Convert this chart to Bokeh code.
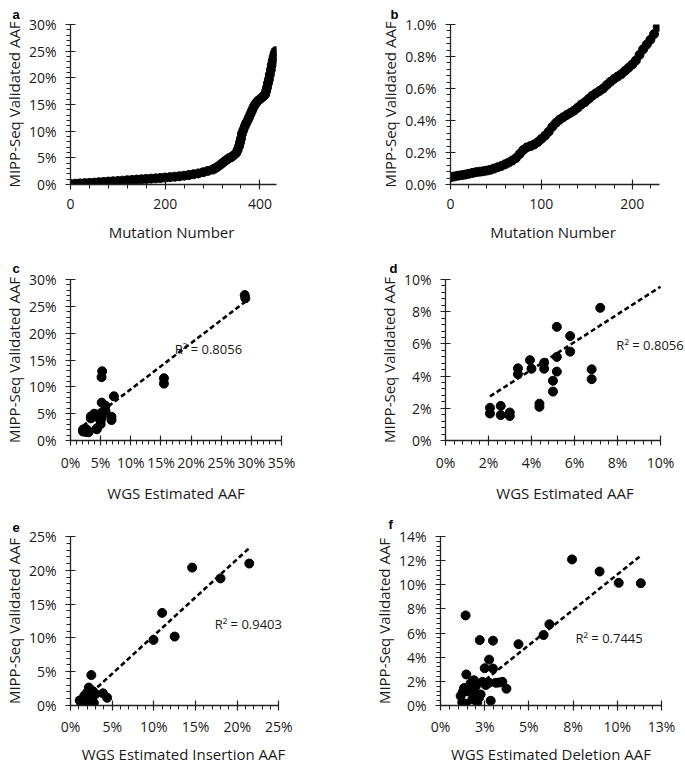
import numpy as np
from bokeh.plotting import figure
from bokeh.layouts import column, row
from bokeh.models import FixedTicker, Label, Range1d
from bokeh.embed import file_html
from bokeh.resources import INLINE

# ---------------- data (percent units) ----------------
# Panel a: sorted validated AAF by mutation number
a_mutation = [0, 10, 20, 30, 40, 50, 60, 70, 80, 90, 100, 110, 120, 130, 140, 150, 160, 170, 180, 190,
              200, 210, 220, 230, 240, 250, 260, 270, 280, 290, 300, 305, 310, 315, 320, 325, 330, 335,
              340, 345, 350, 353, 356, 358, 360, 362, 365, 368, 371, 374, 377, 380, 383, 386, 389, 392,
              396, 400, 404, 408, 411, 413, 415, 417, 419, 421, 423, 425, 427, 429, 431, 433]
a_aaf = [0.10, 0.15, 0.20, 0.25, 0.30, 0.35, 0.42, 0.48, 0.55, 0.60, 0.66, 0.72, 0.80, 0.85, 0.92, 0.98,
         1.04, 1.10, 1.15, 1.22, 1.30, 1.38, 1.46, 1.55, 1.66, 1.78, 1.92, 2.08, 2.30, 2.55, 2.80, 3.00,
         3.30, 3.60, 3.95, 4.30, 4.65, 4.95, 5.15, 5.50, 5.90, 6.50, 7.20, 7.90, 8.60, 9.50, 10.2, 10.9,
         11.5, 12.0, 12.6, 13.2, 13.8, 14.4, 14.9, 15.3, 15.7, 16.0, 16.3, 16.6, 16.9, 17.5, 18.2, 19.0,
         19.7, 20.6, 21.5, 22.4, 23.2, 23.9, 24.5, 25.0]

# Panel b: low-AAF mutations
b_mutation = [0, 4, 8, 12, 16, 20, 24, 28, 32, 36, 40, 44, 48, 52, 56, 60, 64, 68, 72, 76, 80, 84, 88,
              92, 96, 100, 104, 108, 112, 116, 120, 124, 128, 132, 136, 140, 144, 148, 152, 156, 160,
              164, 168, 172, 176, 180, 184, 188, 192, 196, 200, 204, 208, 212, 216, 220, 224, 228]
b_aaf = [0.045, 0.050, 0.055, 0.058, 0.062, 0.067, 0.072, 0.077, 0.080, 0.083, 0.087, 0.092, 0.100,
         0.108, 0.116, 0.126, 0.137, 0.150, 0.165, 0.190, 0.215, 0.232, 0.240, 0.250, 0.265, 0.285,
         0.305, 0.330, 0.360, 0.385, 0.405, 0.420, 0.435, 0.448, 0.462, 0.480, 0.500, 0.515, 0.535,
         0.555, 0.570, 0.585, 0.600, 0.622, 0.642, 0.660, 0.675, 0.690, 0.710, 0.730, 0.750, 0.775,
         0.810, 0.845, 0.875, 0.905, 0.940, 0.985]

# Panel d: WGS estimated vs MIPP-Seq validated (low range)
d_wgs = [7.20, 5.18, 5.80, 5.80, 5.18, 5.18, 5.00, 5.00, 6.80, 6.80, 4.59, 4.59, 3.93, 4.00, 3.37, 3.37,
         4.37, 4.37, 2.07, 2.07, 2.57, 2.57, 2.99, 2.99]
d_mipp = [8.24, 7.06, 6.49, 5.52, 5.19, 4.28, 3.71, 3.04, 4.42, 3.81, 4.83, 4.46, 4.99, 4.46, 4.48, 4.12,
          2.29, 2.09, 2.03, 1.68, 2.15, 1.58, 1.74, 1.52]
# Panel c: same points plus high-AAF ones
c_extra_wgs = [5.25, 5.15, 15.5, 15.5, 28.9, 29.0]
c_extra_mipp = [12.9, 11.8, 11.6, 10.6, 27.1, 26.5]
c_wgs = d_wgs + c_extra_wgs
c_mipp = d_mipp + c_extra_mipp
cd_slope, cd_intercept, cd_r2 = 0.859, 0.96, "0.8056"

# Panel e: insertions
e_wgs = [21.45, 18.0, 14.6, 11.0, 12.5, 9.96, 2.5, 3.9, 4.4, 1.1, 1.45, 1.65, 2.0, 2.2, 2.35, 2.8, 2.6,
         1.8, 2.4, 3.0, 1.3, 2.1, 2.7]
e_mipp = [21.0, 18.8, 20.4, 13.7, 10.2, 9.7, 4.5, 1.8, 1.15, 0.75, 0.5, 1.45, 1.95, 2.65, 2.3, 0.4, 1.2,
          0.25, 1.9, 1.7, 0.2, 1.0, 2.1]
e_slope, e_intercept, e_r2 = 1.13, -0.95, "0.9403"

# Panel f: deletions
f_wgs = [7.44, 9.0, 10.08, 11.33, 6.16, 5.83, 4.41, 1.42, 2.22, 2.97, 2.75, 2.5, 2.97, 1.46, 3.73, 3.5,
         2.84, 1.14, 1.23, 1.42, 1.61, 1.7, 1.99, 2.18, 2.37, 2.56, 2.75, 3.13, 1.8, 1.52, 2.08, 2.27,
         1.33, 1.89, 3.3, 1.25, 2.0]
f_mipp = [12.1, 11.1, 10.16, 10.13, 6.73, 5.84, 5.08, 7.46, 5.42, 5.37, 3.8, 3.09, 3.06, 2.57, 1.39,
          1.96, 0.39, 0.79, 0.26, 0.13, 1.57, 1.83, 1.05, 0.65, 1.96, 1.7, 1.88, 1.88, 0.52, 1.18, 0.26,
          0.92, 1.44, 2.09, 1.9, 1.1, 1.6]
f_slope, f_intercept, f_r2 = 1.17, -0.85, "0.7445"

# Tick values and labels
a_xticks, a_xlabels = [0, 200, 400], ["0", "200", "400"]
a_yticks = [0, 5, 10, 15, 20, 25, 30]
a_ylabels = ["0%", "5%", "10%", "15%", "20%", "25%", "30%"]
b_xticks, b_xlabels = [0, 100, 200], ["0", "100", "200"]
b_yticks = [0.0, 0.2, 0.4, 0.6, 0.8, 1.0]
b_ylabels = ["0.0%", "0.2%", "0.4%", "0.6%", "0.8%", "1.0%"]
c_xticks = [0, 5, 10, 15, 20, 25, 30, 35]
c_xlabels = ["0%", "5%", "10%", "15%", "20%", "25%", "30%", "35%"]
c_yticks, c_ylabels = a_yticks, a_ylabels
d_xticks = [0, 2, 4, 6, 8, 10]
d_xlabels = ["0%", "2%", "4%", "6%", "8%", "10%"]
d_yticks, d_ylabels = d_xticks, d_xlabels
e_xticks = [0, 5, 10, 15, 20, 25]
e_xlabels = ["0%", "5%", "10%", "15%", "20%", "25%"]
e_yticks, e_ylabels = e_xticks, e_xlabels
f_xticks = [0, 2.5, 5, 7.5, 10, 12.5]
f_xlabels = ["0%", "3%", "5%", "8%", "10%", "13%"]
f_yticks = [0, 2, 4, 6, 8, 10, 12, 14]
f_ylabels = ["0%", "2%", "4%", "6%", "8%", "10%", "12%", "14%"]

FONT = "Open Sans"
TXT = "#1a1a1a"
YTITLE = "MIPP-Seq Validated AAF"


def panel(w, h, bl, br, bt, bb, xr, xb, yr, xt, xtl, xstep, yt, ytl, ystep, xtitle, letter, loff,
          lstand, tstand, ltitle_stand):
    p = figure(width=w, height=h, x_range=Range1d(*xr), y_range=Range1d(*yr),
               output_backend="svg", toolbar_location=None,
               min_border_left=bl, min_border_right=br, min_border_top=bt, min_border_bottom=bb)
    p.outline_line_color = None
    p.xgrid.visible = False
    p.ygrid.visible = False
    p.xaxis.bounds = (xr[0], xb)
    p.xaxis.ticker = FixedTicker(ticks=xt, minor_ticks=list(np.arange(xr[0], xb + 1e-9, xstep)))
    p.yaxis.ticker = FixedTicker(ticks=yt, minor_ticks=list(np.arange(yr[0], yr[1] + 1e-9, ystep)))
    p.xaxis.major_label_overrides = {float(t): l for t, l in zip(xt, xtl)}
    p.yaxis.major_label_overrides = {float(t): l for t, l in zip(yt, ytl)}
    for ax in (p.xaxis[0], p.yaxis[0]):
        ax.axis_line_color = "#222222"
        ax.axis_line_width = 1.3
        ax.major_tick_line_color = "#222222"
        ax.minor_tick_line_color = "#222222"
        ax.major_tick_line_width = 1.2
        ax.major_tick_in = 5
        ax.major_tick_out = 5
        ax.minor_tick_in = 0
        ax.minor_tick_out = 4
        ax.major_label_text_font = FONT
        ax.major_label_text_font_size = "14px"
        ax.major_label_text_color = TXT
        ax.axis_label_text_font = FONT
        ax.axis_label_text_font_size = "15px"
        ax.axis_label_text_font_style = "normal"
        ax.axis_label_text_color = TXT
    p.xaxis.axis_label = xtitle
    p.yaxis.axis_label = YTITLE
    p.xaxis.major_label_standoff = lstand
    p.xaxis.axis_label_standoff = tstand
    p.yaxis.major_label_standoff = 9
    p.yaxis.axis_label_standoff = 2
    p.title.text = letter
    p.title.align = "left"
    p.title.offset = loff
    p.title.standoff = ltitle_stand
    p.title.text_font = "Liberation Sans"
    p.title.text_font_style = "bold"
    p.title.text_font_size = "13px"
    p.title.text_color = "black"
    return p


def scat(p, xs, ys):
    p.scatter(xs, ys, size=9, marker="circle", fill_color="black", line_color="black")


def trend(p, xs, slope, intercept, xmax):
    tx = [min(xs), min(max(xs), xmax)]
    ty = [slope * v + intercept for v in tx]
    p.line(tx, ty, line_dash="5 3", line_width=2.6, line_color="black")


def r2(p, x, y, txt, level="annotation"):
    p.add_layout(Label(x=x, y=y, text="R² = " + txt, text_font=FONT, text_font_size="13px",
                       text_baseline="middle", text_align="left", text_color=TXT, level=level))


pa = panel(342, 250, 66, 66, 24, 65, (0, 435), 435, (0, 30), a_xticks, a_xlabels, 40,
           a_yticks, a_ylabels, 1, "Mutation  Number", "a", -58, 9, 10, 6)
scat(pa, a_mutation, a_aaf)

pb = panel(343, 250, 108, 26, 24, 66, (0, 230), 230, (0, 1.0), b_xticks, b_xlabels, 20,
           b_yticks, b_ylabels, 0.04, "Mutation  Number", "b", -60, 9, 10, 6)
scat(pb, b_mutation, b_aaf)

pc = panel(342, 255, 66, 61, 29, 63, (0, 35), 35, (0, 30), c_xticks, c_xlabels, 1,
           c_yticks, c_ylabels, 1, "WGS Estimated AAF", "c", -58, 7, 8, 7)
r2(pc, 17.3, 17.1, cd_r2, level="underlay")
scat(pc, c_wgs, c_mipp)
trend(pc, c_wgs, cd_slope, cd_intercept, 35)

pd_ = panel(343, 255, 103, 1, 29, 63, (0, 11.12), 10, (0, 10), d_xticks, d_xlabels, 0.4,
            d_yticks, d_ylabels, 0.4, "WGS Estimated AAF", "d", -56, 7, 8, 7)
scat(pd_, d_wgs, d_mipp)
trend(pd_, c_wgs, cd_slope, cd_intercept, 10)
r2(pd_, 7.95, 5.95, cd_r2)

pe = panel(342, 261, 66, 46, 31, 56, (0, 27.12), 25, (0, 25), e_xticks, e_xlabels, 1,
           e_yticks, e_ylabels, 1, "WGS Estimated Insertion AAF", "e", -58, 6, 5, 9)
scat(pe, e_wgs, e_mipp)
trend(pe, e_wgs, e_slope, e_intercept, 25)
r2(pe, 17.3, 12.1, e_r2)

pf = panel(343, 261, 98, 24, 30, 56, (0, 12.5), 12.5, (0, 14), f_xticks, f_xlabels, 0.5,
           f_yticks, f_ylabels, 0.4, "WGS Estimated Deletion AAF", "f", -52, 6, 5, 9)
scat(pf, f_wgs, f_mipp)
trend(pf, f_wgs, f_slope, f_intercept, 12.5)
r2(pf, 7.63, 5.6, f_r2)

layout = column(row(pa, pb), row(pc, pd_), row(pe, pf))
open("out.html", "w").write(file_html(layout, INLINE))
